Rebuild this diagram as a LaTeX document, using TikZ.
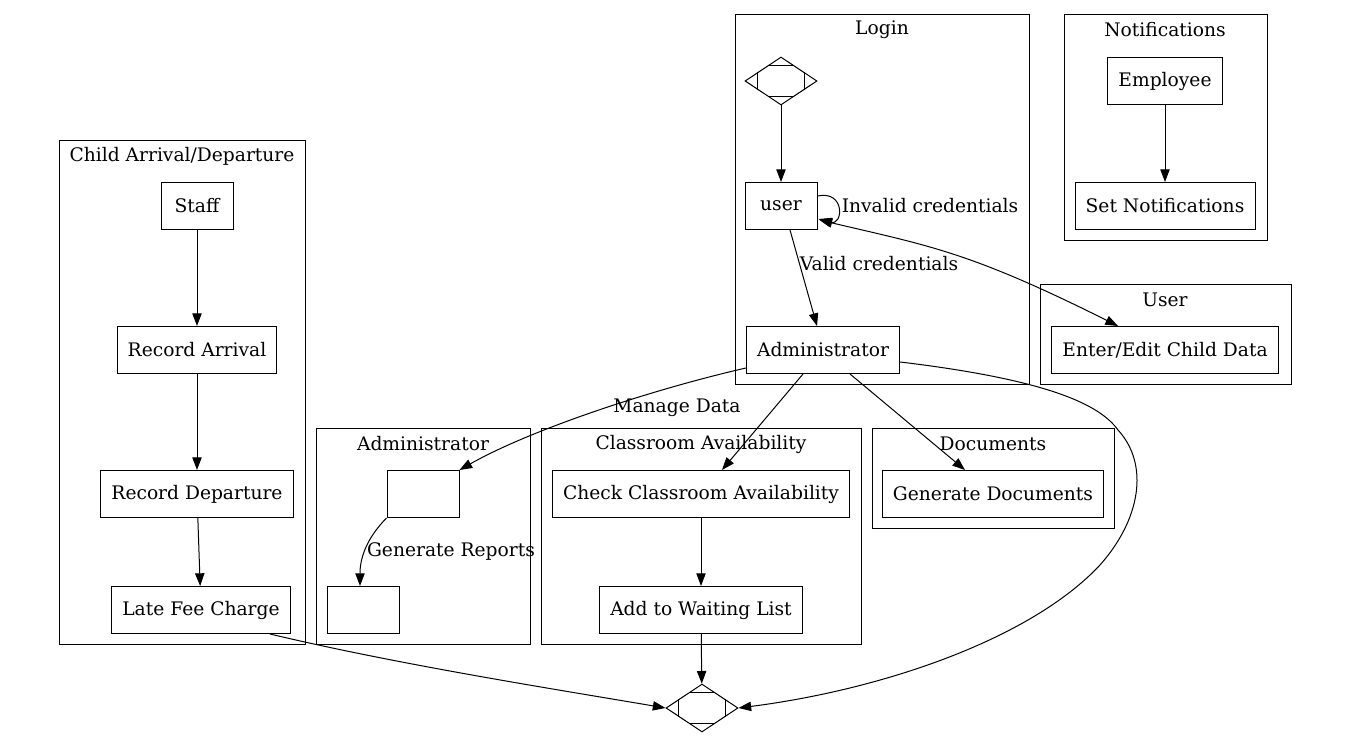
\documentclass[tikz,border=0pt]{standalone}
\usepackage{fontspec}
\setmainfont{DejaVu Serif}
\usetikzlibrary{shapes.geometric,arrows.meta,calc}
\begin{document}
\begin{tikzpicture}[x=0.75pt,y=-0.75pt,
  every node/.style={font=\fontsize{14pt}{16pt}\selectfont},
  box/.style={draw, line width=0.75pt, minimum height=35.25pt, minimum width=54pt, inner xsep=8pt, inner ysep=0pt},
  cluster/.style={draw, line width=0.75pt},
  arr/.style={line width=0.75pt, -{Triangle[length=9.5pt,width=7pt]}},
  biarr/.style={line width=0.75pt, {Triangle[length=9.5pt,width=7pt]}-{Triangle[length=9.5pt,width=7pt]}},
  lbl/.style={inner sep=0pt},
  mdia/.style={draw, diamond, line width=0.75pt, minimum width=54pt, minimum height=36pt, inner sep=0pt}]
\useasboundingbox (0,0) rectangle (1350,737);

% clusters
\draw[cluster] (59,141) rectangle (305,645);
\node (tChild) at (182,156) {Child Arrival/Departure};
\draw[cluster] (735,15) rectangle (1029,385);
\node (tLogin) at (882,30) {Login};
\draw[cluster] (1064,15) rectangle (1267,241);
\node (tNotif) at (1165,30) {Notifications};
\draw[cluster] (1040,285) rectangle (1291,385);
\node (tUser) at (1165,300) {User};
\draw[cluster] (316,429) rectangle (530,645);
\node (tAdmin) at (423,444) {Administrator};
\draw[cluster] (541,429) rectangle (861,645);
\node (tClass) at (701,444) {Classroom Availability};
\draw[cluster] (872,429) rectangle (1114,529);
\node (tDocs) at (993,444) {Documents};

% nodes
\node[box] (staff) at (197,206) {Staff};
\node[box] (arrival) at (197,350) {Record Arrival};
\node[box] (depart) at (197,494) {Record Departure};
\node[box] (late) at (201,610) {Late Fee Charge};
\node[mdia] (start) at (781,81) {};
\node[box] (user) at (781,206) {user};
\node[box] (admin) at (823,350) {Administrator};
\node[box] (emp) at (1165,81) {Employee};
\node[box] (setn) at (1165,206) {Set Notifications};
\node[box] (edit) at (1165,350) {Enter/Edit Child Data};
\node[box] (blank1) at (423,494) {};
\node[box] (blank2) at (363,610) {};
\node[box] (check) at (701,494) {Check Classroom Availability};
\node[box] (wait) at (701,610) {Add to Waiting List};
\node[box] (docs) at (993,494) {Generate Documents};
\node[mdia] (end) at (702,708) {};

% Mdiamond cut lines
\foreach \d in {start,end}{
  \draw[line width=0.75pt] ($(\d.north)!0.35!(\d.west)$) -- ($(\d.north)!0.35!(\d.east)$);
  \draw[line width=0.75pt] ($(\d.south)!0.35!(\d.west)$) -- ($(\d.south)!0.35!(\d.east)$);
  \draw[line width=0.75pt] ($(\d.west)!0.35!(\d.north)$) -- ($(\d.west)!0.35!(\d.south)$);
  \draw[line width=0.75pt] ($(\d.east)!0.35!(\d.north)$) -- ($(\d.east)!0.35!(\d.south)$);
}

% edges
\draw[arr] (start) -- (user);
\draw[arr] (staff) -- (arrival);
\draw[arr] (arrival) -- (depart);
\draw[arr] (depart) -- (late);
\draw[arr] (emp) -- (setn);
\draw[arr] (check) -- (wait);
\draw[arr] (wait) -- (end);
\draw[arr] ($(user.east)+(0,-10)$) .. controls +(28,-6) and +(25,7) .. ($(user.east)+(1,13)$);
\node[lbl] (lInvalid) at (930,206) {Invalid credentials};
\draw[arr] ($(user.south)+(9,0)$) -- ($(admin.north)+(-6,0)$);
\node[lbl] (lValid) at (879,264) {Valid credentials};
\draw[biarr] ($(user.east)+(2,14)$) .. controls (930,246) and (970,252) .. ($(edit.north)+(-47,0)$);
\draw[arr] ($(admin.south)+(-20,0)$) -- ($(check.north)+(21,0)$);
\draw[arr] ($(admin.south)+(27,0)$) -- ($(docs.north)+(-28,0)$);
\draw[arr] ($(admin.west)+(0,18)$) .. controls (650,390) and (530,430) .. (blank1.north east);
\node[lbl] (lManage) at (677,408) {Manage Data};
\draw[arr] (blank1.south west) .. controls (365,540) and (360,560) .. ($(blank2.north)+(-3,0)$);
\node[lbl] (lReports) at (451,552) {Generate Reports};
\draw[arr] ($(admin.east)+(0,12)$) .. controls (1050,380) and (1100,405) .. (1118,430)
   .. controls (1150,465) and (1140,520) .. (1100,565)
   .. controls (1030,640) and (880,690) .. (end.east);
\draw[arr] ($(late.south)+(69,0)$) .. controls (400,665) and (560,690) .. (end.west);
\end{tikzpicture}
\end{document}
